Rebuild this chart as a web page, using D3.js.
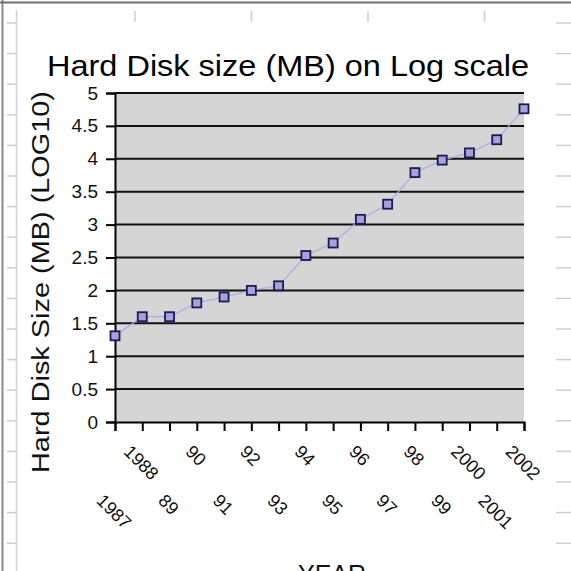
<!DOCTYPE html>
<html>
<head>
<meta charset="utf-8">
<script src="https://cdn.jsdelivr.net/npm/d3@7"></script>
<style>
  body { margin: 0; background: #fff; }
  text { font-family: Arial, "Liberation Sans", sans-serif; fill: #000; }
</style>
</head>
<body>
<div id="chart"></div>
<script>
// hard disk size, log10(MB), one value per year
const years = ["1987", "1988", "89", "90", "91", "92", "93", "94", "95", "96", "97", "98", "99", "2000", "2001", "2002"];
const logSize = [1.31, 1.6, 1.6, 1.81, 1.9, 2.0, 2.07, 2.53, 2.72, 3.08, 3.31, 3.79, 3.98, 4.09, 4.29, 4.76];
const yTicks = [0, 0.5, 1, 1.5, 2, 2.5, 3, 3.5, 4, 4.5, 5];

const W = 571, H = 571;
const plot = { left: 115, right: 524, top: 93, bottom: 422 };

let svg = d3.select("#chart")
            .append("svg")
            .attr("width", W)
            .attr("height", H);

// spreadsheet look behind the chart
let bg = svg.append("g").attr("class", "sheet");
bg.append("line")
  .attr("x1", 2.5).attr("x2", 2.5).attr("y1", 0).attr("y2", H)
  .style("stroke", "#8a8a8a").style("stroke-width", 2);
bg.append("line")
  .attr("x1", 0).attr("x2", W).attr("y1", 2.5).attr("y2", 2.5)
  .style("stroke", "#6e6e6e").style("stroke-width", 2);
bg.append("line")
  .attr("x1", 16.5).attr("x2", 16.5).attr("y1", 10).attr("y2", H)
  .style("stroke", "#d0d0d0").style("stroke-width", 1.5);
bg.selectAll(".rowL")
  .data(d3.range(23, H, 30.6))
  .enter().append("line")
  .attr("x1", 7).attr("x2", 16).attr("y1", function(d) { return d; }).attr("y2", function(d) { return d; })
  .style("stroke", "#cfcfcf").style("stroke-width", 1.5);
bg.selectAll(".rowR")
  .data(d3.range(23, H, 30.6))
  .enter().append("line")
  .attr("x1", 556).attr("x2", W).attr("y1", function(d) { return d; }).attr("y2", function(d) { return d; })
  .style("stroke", "#cfcfcf").style("stroke-width", 1.5);
bg.selectAll(".colT")
  .data(d3.range(135, W - 60, 116.5))
  .enter().append("line")
  .attr("x1", function(d) { return d; }).attr("x2", function(d) { return d; }).attr("y1", 11).attr("y2", 22)
  .style("stroke", "#cfcfcf").style("stroke-width", 1.5);

let x = d3.scalePoint()
          .domain(years)
          .range([plot.left, plot.right]);
let y = d3.scaleLinear()
          .domain([0, 5])
          .range([plot.bottom, plot.top]);

// plot area
svg.append("rect")
   .attr("x", plot.left)
   .attr("y", plot.top)
   .attr("width", plot.right - plot.left)
   .attr("height", plot.bottom - plot.top)
   .style("fill", "#d5d5d5");

// horizontal gridlines
svg.append("g")
   .selectAll("line")
   .data(yTicks.slice(1))
   .enter().append("line")
   .attr("x1", plot.left).attr("x2", plot.right)
   .attr("y1", function(d) { return y(d); })
   .attr("y2", function(d) { return y(d); })
   .style("stroke", "#111").style("stroke-width", 2);

// y axis
let yAxis = d3.axisLeft(y)
              .tickValues(yTicks)
              .tickSize(9)
              .tickPadding(8)
              .tickFormat(d3.format(""));
let gy = svg.append("g")
            .attr("transform", "translate(" + plot.left + ",0)")
            .call(yAxis);
gy.select(".domain").style("stroke", "#000").style("stroke-width", 2);
gy.selectAll(".tick line").style("stroke", "#000").style("stroke-width", 2);
gy.selectAll(".tick text")
  .style("font-size", "19px")
  .style("fill", "#111");

// x axis
let xAxis = d3.axisBottom(x)
              .tickSize(9)
              .tickFormat("");
let gx = svg.append("g")
            .attr("transform", "translate(0," + plot.bottom + ")")
            .call(xAxis);
gx.select(".domain").style("stroke", "#000").style("stroke-width", 2);
gx.selectAll(".tick line").style("stroke", "#000").style("stroke-width", 2);

// staggered, slanted year labels
let labelSize = 18;
let labels = svg.append("g")
   .selectAll("text")
   .data(years)
   .enter().append("text")
   .attr("text-anchor", "middle")
   .attr("dominant-baseline", "central")
   .style("font-size", labelSize + "px")
   .style("fill", "#111")
   .text(function(d) { return d; });
labels.attr("transform", function(d, i) {
    let len = this.getComputedTextLength();
    let top = (i % 2 == 0) ? 493 : 444;
    let cy = top + (len + labelSize * 0.72) * Math.SQRT1_2 / 2;
    return "translate(" + (x(d) - 1) + "," + cy + ") rotate(45)";
});

// series line and markers
let lineGenerator = d3.line()
    .x(function(d, i) { return x(years[i]); })
    .y(function(d) { return y(d); });

svg.append("path")
   .attr("d", lineGenerator(logSize))
   .style("fill", "none")
   .style("stroke", "#a9a9e6")
   .style("stroke-width", 1.2);

svg.append("g")
   .selectAll("rect")
   .data(logSize)
   .enter().append("rect")
   .attr("x", function(d, i) { return x(years[i]) - 4.5; })
   .attr("y", function(d) { return y(d) - 4.5; })
   .attr("width", 9)
   .attr("height", 9)
   .style("fill", "#a3a3d6")
   .style("stroke", "#1a1a5a")
   .style("stroke-width", 1.8);

// titles
svg.append("text")
   .attr("x", 288)
   .attr("y", 76)
   .attr("text-anchor", "middle")
   .attr("textLength", 482)
   .attr("lengthAdjust", "spacingAndGlyphs")
   .style("font-size", "30px")
   .text("Hard Disk size (MB) on Log scale");

svg.append("text")
   .attr("transform", "translate(49,282) rotate(-90)")
   .attr("text-anchor", "middle")
   .attr("textLength", 382)
   .attr("lengthAdjust", "spacingAndGlyphs")
   .style("font-size", "23px")
   .style("fill", "#111")
   .text("Hard Disk Size (MB) (LOG10)");

svg.append("text")
   .attr("x", 332)
   .attr("y", 583)
   .attr("text-anchor", "middle")
   .style("font-size", "25px")
   .style("fill", "#111")
   .text("YEAR");
</script>
</body>
</html>
